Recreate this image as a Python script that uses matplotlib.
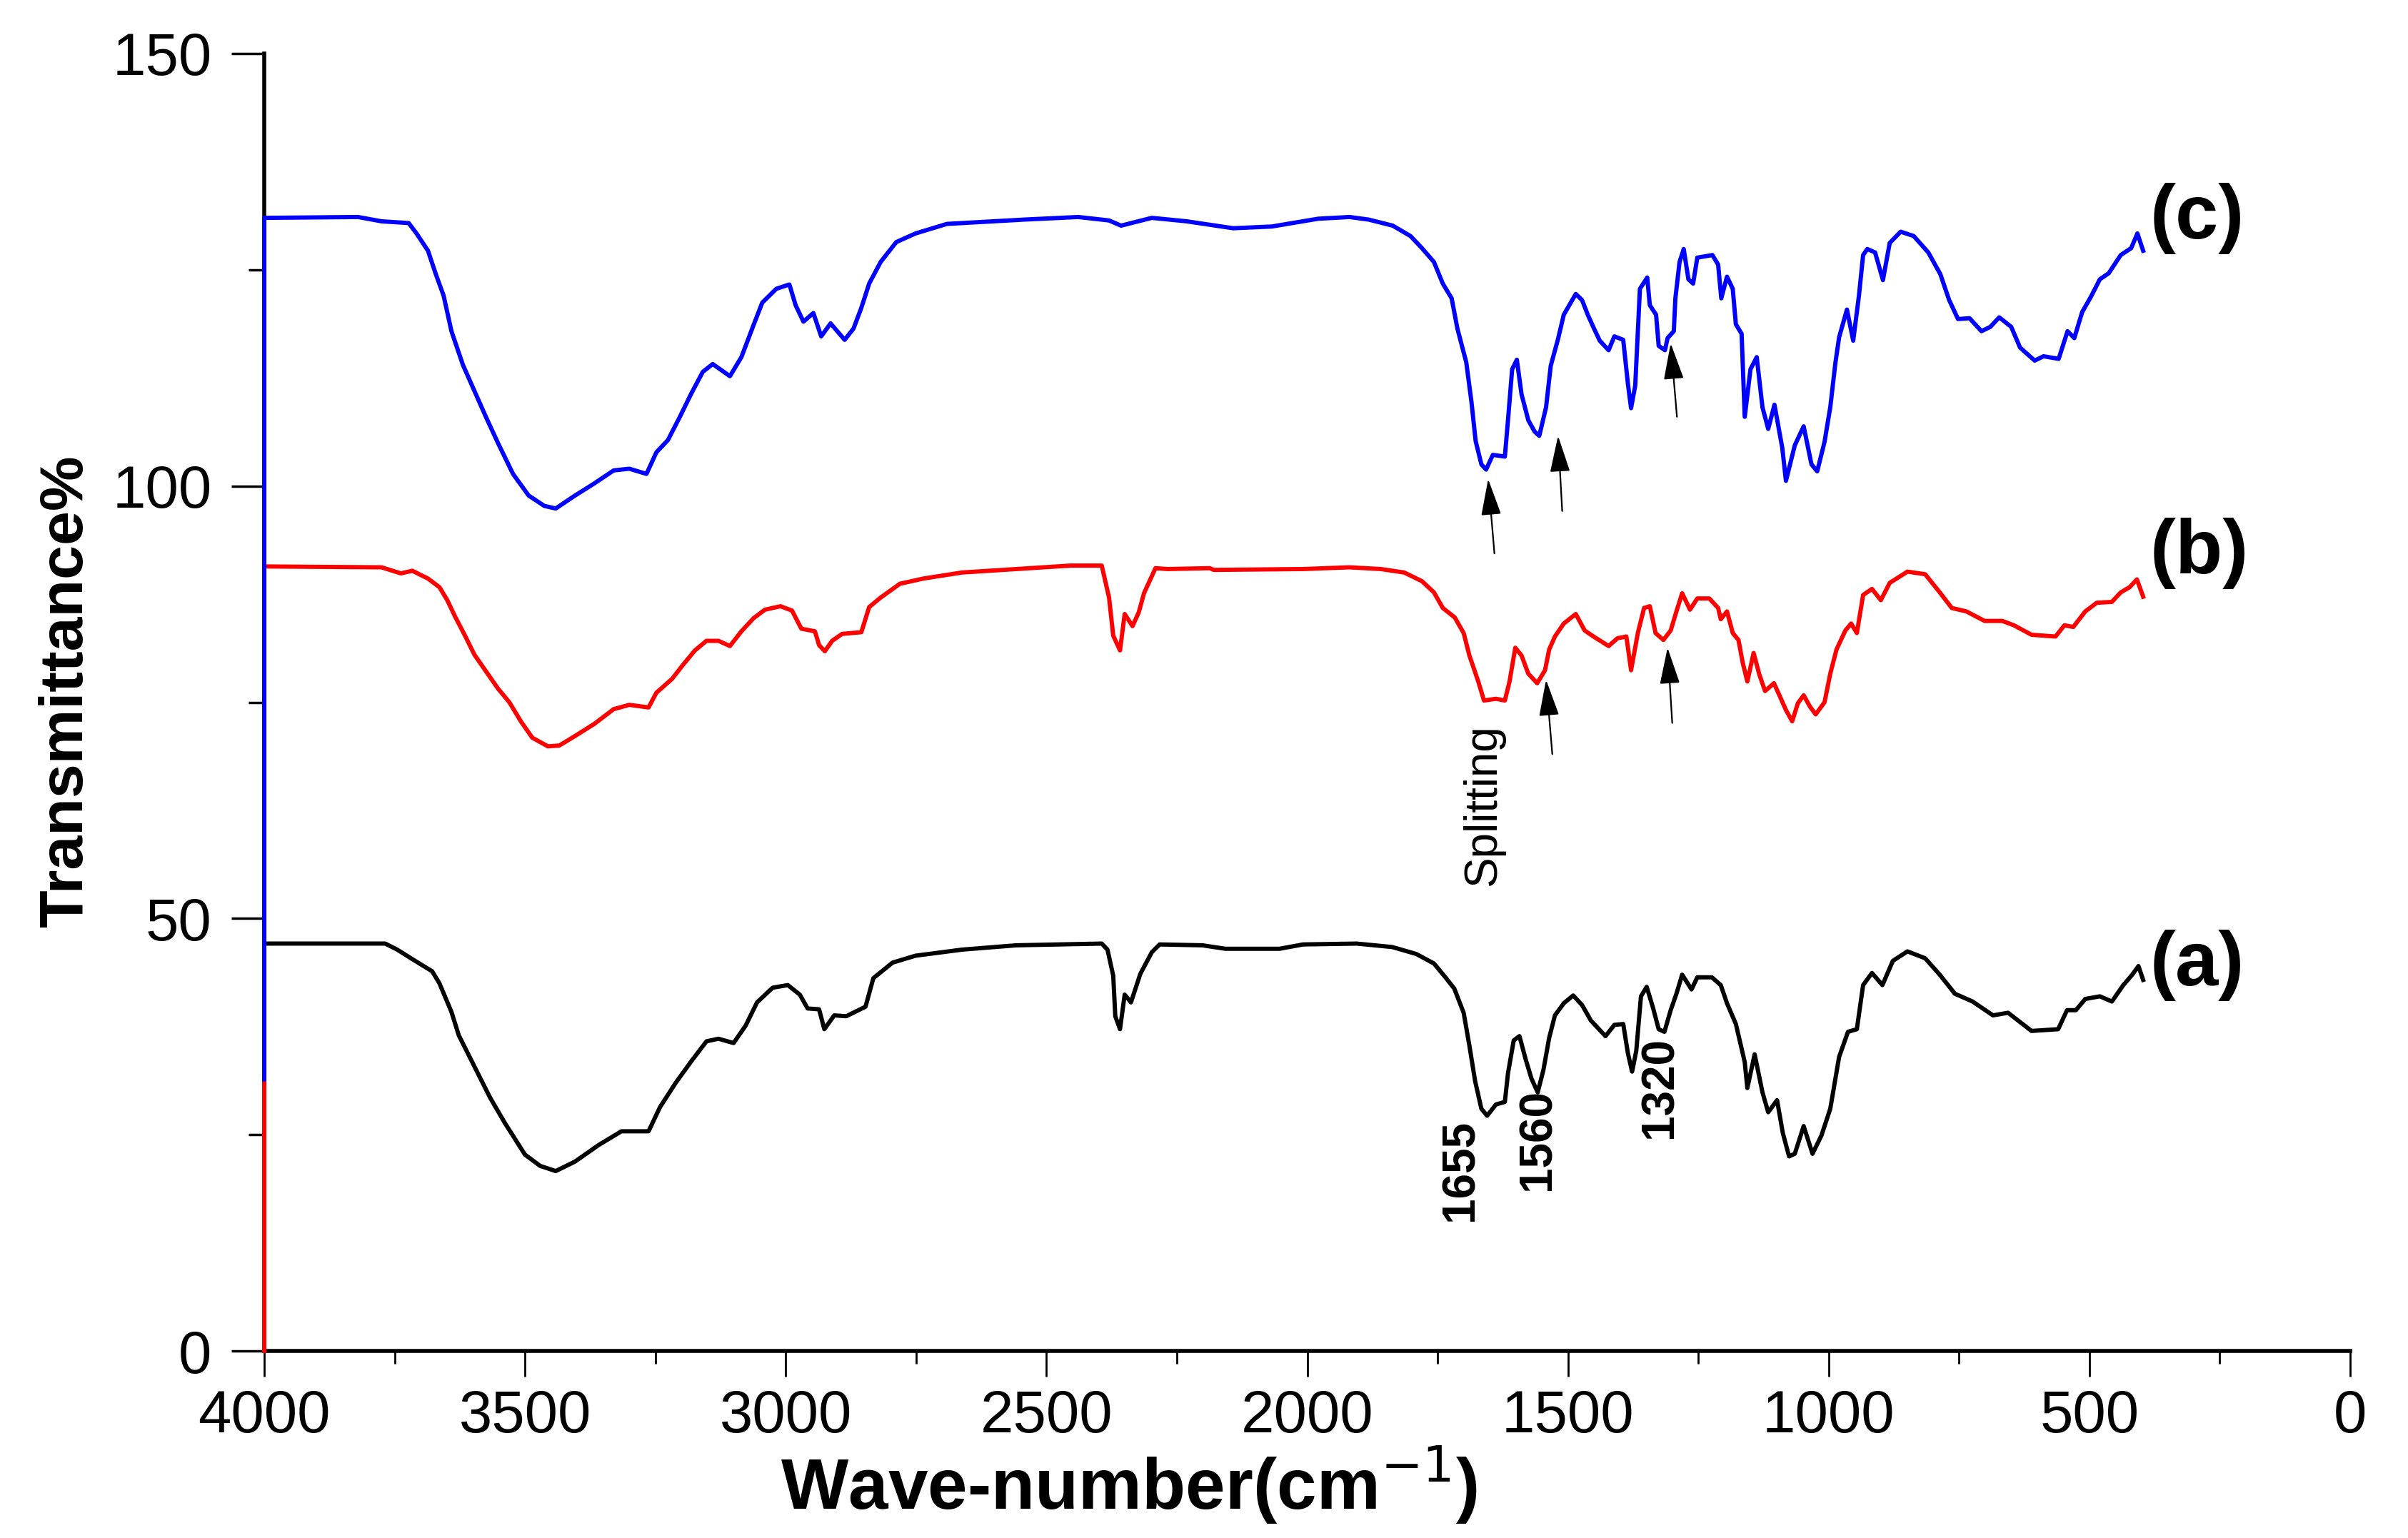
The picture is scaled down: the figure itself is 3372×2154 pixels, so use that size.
import matplotlib
matplotlib.use("Agg")
import matplotlib.pyplot as plt
from matplotlib.ticker import MultipleLocator

plt.rcParams['font.family'] = ['Liberation Sans', 'DejaVu Sans']

# (a) black spectrum
wn_a = [4000, 3768, 3745, 3716, 3678, 3664, 3641, 3627, 3597, 3567, 3538, 3500, 3471, 3441,
        3404, 3359, 3315, 3263, 3241, 3211, 3181, 3152, 3129, 3100, 3077, 3055, 3025, 2996,
        2973, 2958, 2936, 2926, 2907, 2884, 2847, 2832, 2795, 2751, 2662, 2558, 2394, 2383,
        2372, 2368, 2359, 2350, 2338, 2320, 2298, 2283, 2201, 2157, 2053, 2008, 1905, 1837,
        1791, 1757, 1735, 1718, 1700, 1689, 1678, 1666, 1655, 1638, 1621, 1615, 1604, 1593,
        1581, 1570, 1558, 1547, 1536, 1525, 1508, 1490, 1473, 1456, 1428, 1411, 1394, 1385,
        1377, 1369, 1360, 1349, 1337, 1326, 1315, 1303, 1292, 1281, 1263, 1252, 1224, 1207,
        1195, 1178, 1161, 1156, 1142, 1127, 1116, 1099, 1088, 1076, 1065, 1048, 1031, 1014,
        997, 980, 963, 946, 934, 917, 897, 877, 849, 815, 787, 758, 724, 685, 656, 611, 560,
        543, 526, 508, 480, 457, 435, 418, 406, 397]
t_a = [47.1, 47.1, 46.4, 45.3, 43.9, 42.5, 39.2, 36.5, 32.9, 29.3, 26.3, 22.7, 21.4, 20.8,
       21.9, 23.8, 25.4, 25.4, 28.2, 31.0, 33.5, 35.8, 36.1, 35.6, 37.6, 40.3, 42.0, 42.3,
       41.2, 39.6, 39.5, 37.2, 38.8, 38.7, 39.8, 43.1, 44.9, 45.7, 46.4, 46.9, 47.1, 46.4,
       43.4, 38.7, 37.2, 41.2, 40.3, 43.6, 46.1, 47.0, 46.9, 46.5, 46.5, 47.0, 47.1, 46.7,
       45.9, 44.8, 43.2, 41.9, 39.1, 35.3, 31.2, 28.0, 27.2, 28.5, 28.8, 32.1, 35.9, 36.4,
       33.7, 31.5, 29.9, 32.5, 36.2, 38.8, 40.2, 41.1, 40.0, 38.2, 36.4, 37.7, 37.8, 34.4,
       32.3, 34.7, 41.0, 42.1, 39.7, 37.2, 36.9, 39.4, 41.3, 43.5, 41.8, 43.2, 43.2, 42.3,
       40.2, 37.8, 33.4, 30.4, 34.3, 29.9, 27.6, 29.0, 25.2, 22.5, 22.8, 26.0, 22.8, 24.9,
       28.0, 34.0, 36.9, 37.2, 42.3, 43.7, 42.3, 45.1, 46.2, 45.4, 43.5, 41.3, 40.4, 38.8,
       39.1, 37.0, 37.2, 39.4, 39.4, 40.7, 41.0, 40.4, 42.3, 43.5, 44.5, 42.9]

# (b) red spectrum
wn_b = [4000, 4000, 3775, 3738, 3716, 3686, 3664, 3649, 3634, 3615, 3597, 3575, 3552, 3530,
        3508, 3486, 3456, 3434, 3404, 3367, 3330, 3300, 3263, 3248, 3218, 3196, 3174, 3152,
        3129, 3107, 3085, 3062, 3040, 3010, 2988, 2970, 2944, 2936, 2925, 2911, 2892, 2855,
        2840, 2818, 2781, 2736, 2662, 2558, 2454, 2394, 2380, 2372, 2359, 2350, 2335, 2323,
        2313, 2291, 2268, 2187, 2179, 2008, 1919, 1859, 1814, 1780, 1757, 1740, 1717, 1700,
        1689, 1672, 1661, 1638, 1621, 1612, 1601, 1589, 1576, 1559, 1544, 1536, 1525, 1508,
        1485, 1468, 1451, 1422, 1405, 1388, 1379, 1366, 1354, 1343, 1332, 1317, 1303, 1292,
        1281, 1266, 1252, 1229, 1212, 1207, 1195, 1184, 1173, 1165, 1156, 1144, 1133, 1122,
        1105, 1093, 1082, 1070, 1059, 1048, 1036, 1025, 1008, 997, 985, 968, 957, 946, 934,
        917, 900, 883, 849, 815, 787, 764, 736, 701, 667, 645, 611, 565, 548, 531, 508, 486,
        457, 440, 423, 409, 397]
t_b = [0.0, 90.7, 90.6, 89.9, 90.2, 89.3, 88.3, 86.8, 84.9, 82.7, 80.5, 78.6, 76.6, 75.0,
       72.8, 70.9, 69.9, 70.0, 71.1, 72.5, 74.2, 74.7, 74.4, 76.1, 77.7, 79.4, 81.0, 82.1,
       82.1, 81.5, 83.2, 84.7, 85.7, 86.1, 85.6, 83.5, 83.2, 81.6, 80.9, 82.1, 82.9, 83.1,
       86.0, 87.1, 88.7, 89.3, 90.0, 90.4, 90.8, 90.8, 87.1, 82.7, 81.0, 85.2, 83.8, 85.4,
       87.6, 90.5, 90.4, 90.5, 90.3, 90.4, 90.6, 90.4, 90.0, 89.0, 87.7, 85.9, 84.8, 83.0,
       80.4, 77.4, 75.2, 75.4, 75.2, 77.4, 81.3, 80.4, 78.3, 77.2, 78.7, 81.1, 82.6, 84.1,
       85.2, 83.3, 82.6, 81.5, 82.4, 82.6, 78.7, 83.0, 85.9, 86.1, 83.0, 82.2, 83.3, 85.5,
       87.6, 85.7, 87.0, 87.0, 85.9, 84.6, 85.5, 83.0, 82.2, 79.6, 77.4, 80.7, 78.2, 76.3,
       77.2, 75.6, 74.1, 72.8, 74.9, 75.8, 74.5, 73.6, 75.0, 78.3, 81.1, 83.3, 84.1, 83.0, 87.4,
       88.1, 86.8, 88.8, 90.1, 89.8, 87.7, 85.9, 85.5, 84.4, 84.4, 83.9, 82.8, 82.6, 83.9, 83.7,
       85.5, 86.5, 86.6, 87.7, 88.3, 89.2, 87.2]

# (c) blue spectrum
wn_c = [4000, 4000, 3820, 3775, 3723, 3708, 3686, 3671, 3656, 3641, 3619, 3597, 3575, 3552,
        3523, 3493, 3463, 3441, 3404, 3367, 3330, 3300, 3267, 3248, 3226, 3203, 3181, 3159,
        3140, 3107, 3085, 3063, 3045, 3018, 2993, 2981, 2966, 2947, 2932, 2914, 2887, 2870,
        2855, 2840, 2818, 2788, 2751, 2691, 2543, 2439, 2380, 2357, 2298, 2231, 2142, 2068,
        1979, 1919, 1882, 1836, 1802, 1780, 1757, 1740, 1723, 1712, 1695, 1685, 1677, 1666,
        1657, 1644, 1621, 1615, 1607, 1598, 1589, 1576, 1564, 1555, 1542, 1533, 1519, 1508,
        1485, 1473, 1462, 1450, 1439, 1422, 1411, 1394, 1385, 1379, 1371, 1362, 1348, 1343,
        1331, 1326, 1314, 1309, 1297, 1294, 1286, 1278, 1269, 1260, 1252, 1223, 1212, 1206,
        1195, 1184, 1178, 1167, 1161, 1150, 1138, 1127, 1116, 1104, 1089, 1082, 1065, 1048,
        1033, 1022, 1008, 997, 987, 980, 965, 953, 942, 934, 926, 911, 896, 883, 862, 837,
        809, 786, 769, 752, 730, 707, 690, 673, 650, 633, 605, 588, 559, 542, 529, 514, 497,
        480, 463, 440, 420, 408, 397]
t_c = [31.4, 131.0, 131.1, 130.6, 130.4, 129.2, 127.2, 124.5, 122.0, 117.9, 114.0, 111.0,
       108.0, 105.0, 101.4, 98.9, 97.7, 97.4, 98.9, 100.3, 101.8, 102.0, 101.4, 103.9, 105.3,
       108.0, 110.7, 113.2, 114.1, 112.7, 114.9, 118.4, 121.2, 122.8, 123.3, 120.9, 119.0,
       120.0, 117.3, 118.8, 116.9, 118.2, 120.6, 123.4, 125.9, 128.2, 129.2, 130.3, 130.8,
       131.1, 130.7, 130.1, 131.0, 130.6, 129.8, 130.0, 130.9, 131.1, 130.8, 130.1, 128.9,
       127.5, 125.9, 123.4, 121.7, 118.2, 114.3, 109.7, 105.2, 102.5, 101.9, 103.6, 103.4,
       107.6, 113.5, 114.6, 110.6, 107.6, 106.3, 105.8, 109.1, 113.9, 117.0, 119.8, 122.2,
       121.5, 119.8, 118.2, 116.8, 115.7, 117.3, 116.9, 111.8, 109.0, 111.6, 122.8, 124.1,
       120.9, 119.8, 116.2, 115.7, 117.1, 117.9, 121.7, 125.9, 127.4, 123.9, 123.4, 126.4,
       126.7, 125.6, 121.7, 124.2, 122.8, 118.7, 117.6, 108.0, 113.5, 114.9, 109.1, 106.6,
       109.4, 104.4, 100.6, 104.7, 106.9, 102.5, 101.7, 105.1, 109.1, 114.3, 117.2, 120.4,
       116.8, 122.0, 126.7, 127.4, 127.0, 123.8, 128.1, 129.4, 128.9, 127.0, 124.5, 121.5,
       119.3, 119.4, 117.9, 118.4, 119.5, 118.4, 116.0, 114.5, 115.0, 114.7, 117.9, 117.1,
       120.1, 121.9, 123.9, 124.6, 126.7, 127.5, 129.2, 127.2]

# labels and annotations
curve_labels = ['(a)', '(b)', '(c)']
curve_label_y = [44.6, 92.2, 130.9]
peak_labels = ['1655', '1560', '1320']
peak_label_x = [1706, 1558, 1323]
peak_label_y = [20.9, 24.4, 30.5]
arrow_tail_x = [1641, 1511, 1291, 1530, 1300]
arrow_tail_y = [92.2, 97.1, 108.0, 69.0, 72.6]
arrow_tip_x = [1653, 1519, 1303, 1542, 1309]
arrow_tip_y = [100.8, 105.8, 116.5, 77.6, 81.3]

fig = plt.figure(figsize=(33.73, 21.54), dpi=100)
ax = fig.add_axes([0.1097, 0.1216, 0.8660, 0.8436])

ax.plot(wn_a, t_a, color='black', lw=4.3, zorder=3, clip_on=False)
ax.plot(wn_b, t_b, color='#ff0000', lw=4.3, zorder=3, clip_on=False)
ax.plot(wn_c, t_c, color='#0000ff', lw=4.3, zorder=3, clip_on=False)

ax.set_xlim(4000, 0)
ax.set_ylim(0, 150)
for s in ['top', 'right']:
    ax.spines[s].set_visible(False)
for s in ['left', 'bottom']:
    ax.spines[s].set_linewidth(4)

ax.xaxis.set_major_locator(MultipleLocator(500))
ax.xaxis.set_minor_locator(MultipleLocator(250))
ax.yaxis.set_major_locator(MultipleLocator(50))
ax.yaxis.set_minor_locator(MultipleLocator(25))
ax.tick_params(axis='x', which='major', direction='out', length=26, width=2, labelsize=60, pad=12)
ax.tick_params(axis='x', which='minor', direction='out', length=13, width=2)
ax.tick_params(axis='y', which='major', direction='out', length=33, width=2.5, labelsize=60, pad=20)
ax.tick_params(axis='y', which='minor', direction='out', length=16, width=2.5)

ax.set_xlabel('Wave-number(cm$^{-1}$)', fontsize=72, fontweight='bold')
ax.xaxis.set_label_coords(0.4146, -0.0715)
ax.set_ylabel('Transmittance%', fontsize=62, fontweight='bold')
ax.yaxis.set_label_coords(-0.0811, 0.5085)

for lab, y in zip(curve_labels, curve_label_y):
    ax.text(384, y, lab, fontsize=78, fontweight='bold', ha='left', va='center')

ax.text(1662, 63.1, 'Splitting', rotation=90, fontsize=46, ha='center', va='center')
for lab, x, y in zip(peak_labels, peak_label_x, peak_label_y):
    ax.text(x, y, lab, rotation=90, fontsize=46, fontweight='bold', ha='center', va='center')

for x0, y0, x1, y1 in zip(arrow_tail_x, arrow_tail_y, arrow_tip_x, arrow_tip_y):
    ax.annotate('', xy=(x1, y1), xytext=(x0, y0),
                arrowprops=dict(arrowstyle='-|>,head_length=0.8,head_width=0.22',
                                mutation_scale=40, lw=1.6, color='black',
                                shrinkA=0, shrinkB=0))

fig.savefig('out.png', dpi=100)
